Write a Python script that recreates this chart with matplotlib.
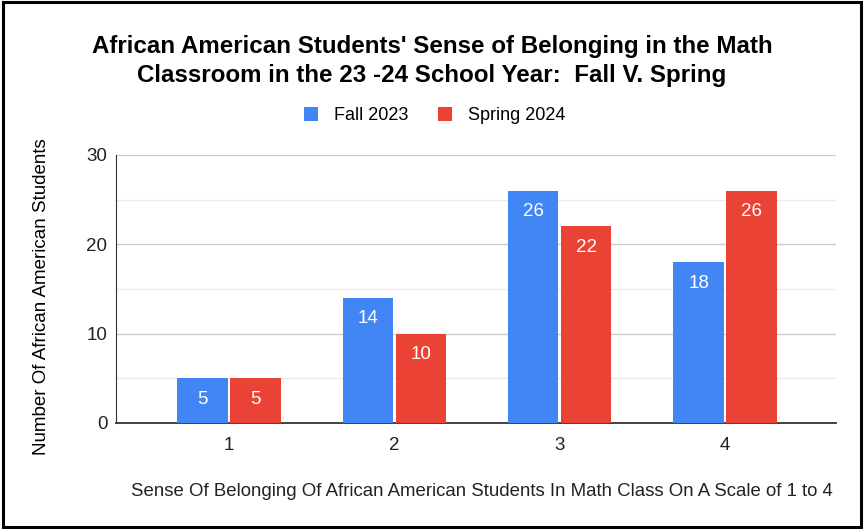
import numpy as np
import matplotlib
matplotlib.use('Agg')
import matplotlib.pyplot as plt
from matplotlib.patches import Rectangle

# data
categories = ['1', '2', '3', '4']
fall_2023 = [5, 14, 26, 18]
spring_2024 = [5, 10, 22, 26]
series_names = ['Fall 2023', 'Spring 2024']
colors = ['#4285F4', '#EA4335']

plt.rcParams['font.family'] = ['Liberation Sans', 'DejaVu Sans']

fig = plt.figure(figsize=(8.64, 5.29), dpi=100)
ax = fig.add_axes([0.134, 0.2004, 0.834, 0.5066])

x = np.arange(1, len(categories) + 1)
w = 0.305
off = 0.16
b1 = ax.bar(x - off, fall_2023, w, color=colors[0], label=series_names[0], zorder=3)
b2 = ax.bar(x + off, spring_2024, w, color=colors[1], label=series_names[1], zorder=3)

for bars, vals in ((b1, fall_2023), (b2, spring_2024)):
    for r, v in zip(bars, vals):
        ax.annotate(str(v), (r.get_x() + r.get_width() / 2, v), xytext=(0, -9),
                    textcoords='offset points', ha='center', va='top',
                    color='white', fontsize=13.5, zorder=4)

ax.set_ylim(0, 30)
ax.set_xlim(0.315, 4.673)
ax.set_yticks([0, 10, 20, 30])
ax.set_yticks([5, 15, 25], minor=True)
ax.set_xticks(x)
ax.set_xticklabels(categories)
ax.tick_params(axis='both', length=0, labelsize=13.5, colors='#222222')
ax.tick_params(axis='y', pad=6)
ax.tick_params(axis='x', pad=10)
ax.tick_params(axis='y', which='minor', length=0)
ax.grid(axis='y', which='major', color='#cccccc', linewidth=1, zorder=0)
ax.grid(axis='y', which='minor', color='#ebebeb', linewidth=1, zorder=0)
for s in ('top', 'right'):
    ax.spines[s].set_visible(False)
ax.spines['left'].set_color('#333333')
ax.spines['bottom'].set_color('#333333')
ax.spines['bottom'].set_linewidth(1.3)

ax.set_ylabel('Number Of African American Students', fontsize=13.5, va='center')
ax.yaxis.set_label_coords(-0.103, 0.47)
fig.text(0.558, 0.071, 'Sense Of Belonging Of African American Students In Math Class On A Scale of 1 to 4',
         ha='center', va='center', fontsize=13.4, color='#222222')

fig.text(0.5, 0.885, "African American Students' Sense of Belonging in the Math\n"
         "Classroom in the 23 -24 School Year:  Fall V. Spring",
         ha='center', va='center', fontsize=17.4, fontweight='bold', linespacing=1.3)

leg = fig.legend(handles=[b1, b2], labels=series_names, loc='center',
                 bbox_to_anchor=(0.503, 0.781), ncol=2, frameon=False, fontsize=13,
                 handlelength=0.8, handleheight=0.8, columnspacing=1.6, handletextpad=0.9)

fig.patches.append(Rectangle((0.003, 0.004), 0.994, 0.992, transform=fig.transFigure,
                             fill=False, edgecolor='black', linewidth=2.2))

fig.savefig('out.png', dpi=100)
